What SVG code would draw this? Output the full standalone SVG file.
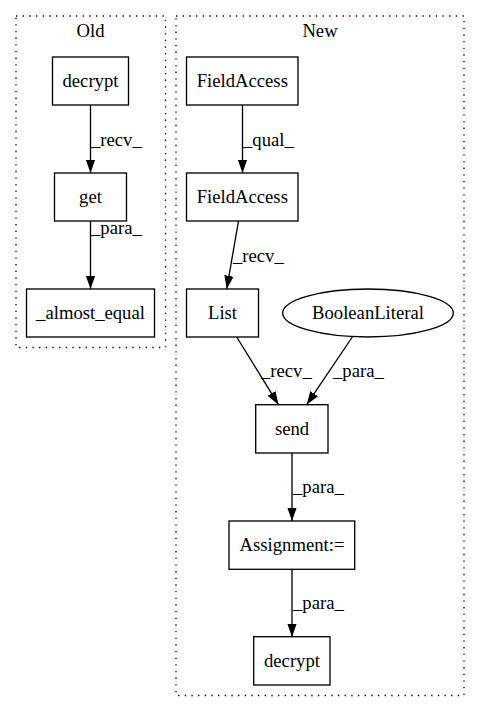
<svg xmlns="http://www.w3.org/2000/svg" width="480" height="712" viewBox="0 0 480 712">
<style>
text{font-family:"Liberation Serif","Times New Roman",serif;font-size:18.67px;fill:#000}
.c{text-anchor:middle}
.node{fill:#fff;stroke:#000;stroke-width:1.33}
.cl{fill:none;stroke:#000;stroke-width:1.33;stroke-dasharray:1.33,5.33}
.e{fill:none;stroke:#000;stroke-width:1.33}
</style>
<defs>
<marker id="ah" markerUnits="userSpaceOnUse" markerWidth="14" markerHeight="10" refX="13.3" refY="4.67" orient="auto">
<path d="M0,0 L13.3,4.67 L0,9.33 z" fill="#000"/>
</marker>
</defs>
<rect width="480" height="712" fill="#fff"/>
<g id="cluster_old">
<rect class="cl" x="16" y="16" width="149.5" height="331.5"/>
<text class="c" x="90.5" y="36.5">Old</text>
</g>
<g id="cluster_new">
<rect class="cl" x="176" y="16" width="288" height="679.5"/>
<text class="c" x="320" y="36.5">New</text>
</g>
<g id="edges">
<line class="e" x1="90.5" y1="105" x2="90.5" y2="173" marker-end="url(#ah)"/>
<text x="91" y="146">_recv_</text>
<line class="e" x1="90.5" y1="221" x2="90.5" y2="289" marker-end="url(#ah)"/>
<text x="91" y="234">_para_</text>
<line class="e" x1="242.5" y1="105" x2="242.5" y2="173" marker-end="url(#ah)"/>
<text x="243" y="146">_qual_</text>
<line class="e" x1="238.5" y1="221" x2="226.7" y2="289" marker-end="url(#ah)"/>
<text x="233" y="262">_recv_</text>
<line class="e" x1="236.7" y1="337" x2="278.5" y2="404.7" marker-end="url(#ah)"/>
<text x="261" y="377">_recv_</text>
<line class="e" x1="352.3" y1="337" x2="306.7" y2="404.7" marker-end="url(#ah)"/>
<text x="333" y="377">_para_</text>
<line class="e" x1="292" y1="453" x2="292" y2="521" marker-end="url(#ah)"/>
<text x="293" y="493">_para_</text>
<line class="e" x1="292" y1="569" x2="292" y2="637" marker-end="url(#ah)"/>
<text x="293" y="609">_para_</text>
</g>
<g id="old_decrypt">
<rect class="node" x="52.5" y="57" width="76" height="48"/>
<text class="c" x="90.5" y="86.5">decrypt</text>
</g>
<g id="old_get">
<rect class="node" x="54.5" y="173" width="72" height="48"/>
<text class="c" x="90.5" y="202.5">get</text>
</g>
<g id="old_almost_equal">
<rect class="node" x="26.5" y="289" width="128" height="48"/>
<text class="c" x="90.5" y="318.5">_almost_equal</text>
</g>
<g id="new_fieldaccess1">
<rect class="node" x="186.5" y="57" width="111.5" height="48"/>
<text class="c" x="242.3" y="86.5">FieldAccess</text>
</g>
<g id="new_fieldaccess2">
<rect class="node" x="186.5" y="173" width="111.5" height="48"/>
<text class="c" x="242.3" y="202.5">FieldAccess</text>
</g>
<g id="new_list">
<rect class="node" x="186.5" y="289" width="72" height="48"/>
<text class="c" x="222.5" y="318.5">List</text>
</g>
<g id="new_booleanliteral">
<ellipse class="node" cx="368" cy="313" rx="85.3" ry="24"/>
<text class="c" x="368" y="318.5">BooleanLiteral</text>
</g>
<g id="new_send">
<rect class="node" x="255.7" y="404.7" width="72.3" height="48.3"/>
<text class="c" x="292" y="434.5">send</text>
</g>
<g id="new_assignment">
<rect class="node" x="229" y="521" width="125.7" height="48.3"/>
<text class="c" x="292" y="550.5">Assignment:=</text>
</g>
<g id="new_decrypt">
<rect class="node" x="253.7" y="636.7" width="76.3" height="48.3"/>
<text class="c" x="292" y="666.5">decrypt</text>
</g>
</svg>
